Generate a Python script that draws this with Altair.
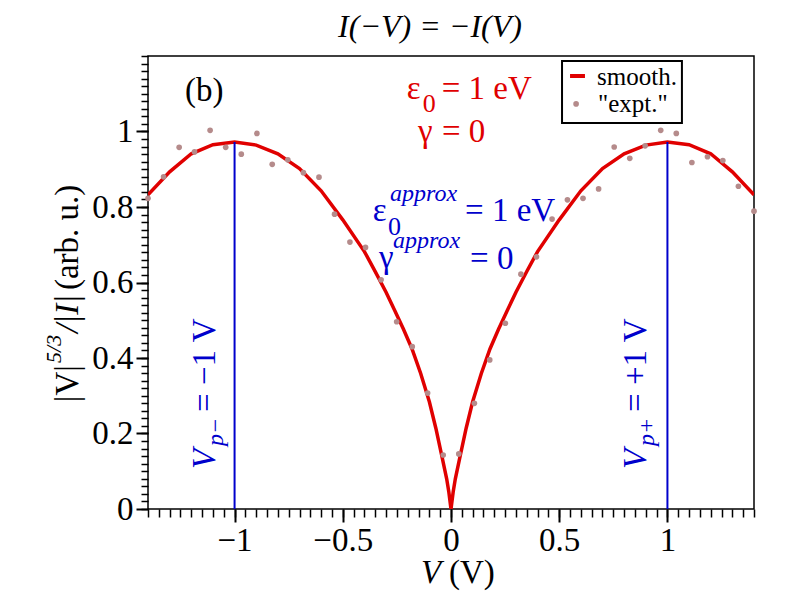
import altair as alt
import pandas as pd

# ---------------- data ----------------
expt_v = [-1.400, -1.328, -1.256, -1.185, -1.113, -1.041, -0.969, -0.897, -0.826, -0.754,
          -0.682, -0.610, -0.538, -0.467, -0.395, -0.323, -0.251, -0.179, -0.108, -0.036,
          0.036, 0.108, 0.179, 0.251, 0.323, 0.395, 0.467, 0.538, 0.610, 0.682,
          0.754, 0.826, 0.897, 0.969, 1.041, 1.113, 1.185, 1.256, 1.328, 1.400]
expt_y = [0.823, 0.880, 0.958, 0.946, 1.003, 0.958, 0.940, 0.995, 0.913, 0.925,
          0.891, 0.879, 0.781, 0.707, 0.693, 0.607, 0.496, 0.430, 0.307, 0.143,
          0.146, 0.280, 0.395, 0.492, 0.622, 0.668, 0.768, 0.819, 0.823, 0.848,
          0.959, 0.929, 0.962, 1.003, 0.995, 0.918, 0.933, 0.923, 0.855, 0.789]

smooth_v = [-1.40, -1.30, -1.20, -1.10, -1.00, -0.90, -0.80, -0.70, -0.60, -0.50,
            -0.40, -0.35, -0.30, -0.26, -0.22, -0.18, -0.14, -0.10, -0.07, -0.04,
            -0.02, -0.01, 0.00, 0.01, 0.02, 0.04, 0.07, 0.10, 0.14, 0.18,
            0.22, 0.26, 0.30, 0.35, 0.40, 0.50, 0.60, 0.70, 0.80, 0.90,
            1.00, 1.10, 1.20, 1.30, 1.40]
smooth_y = [0.832, 0.893, 0.941, 0.965, 0.972, 0.964, 0.941, 0.902, 0.843, 0.766,
            0.682, 0.629, 0.574, 0.526, 0.477, 0.424, 0.359, 0.284, 0.214, 0.134,
            0.080, 0.045, 0.000, 0.045, 0.080, 0.134, 0.214, 0.284, 0.359, 0.424,
            0.477, 0.526, 0.574, 0.629, 0.682, 0.766, 0.843, 0.902, 0.941, 0.964,
            0.972, 0.965, 0.941, 0.893, 0.832]

vp_v = [-1.0, 1.0]
vp_base = [0.0, 0.0]
vp_top = [0.972, 0.972]

x_major = [-1, -0.5, 0, 0.5, 1]
x_minor = [round(-1.4 + 0.05 * i, 2) for i in range(57)]
y_major = [0, 0.2, 0.4, 0.6, 0.8, 1.0]
y_minor = [round(0.02 * i, 2) for i in range(61)]

legend_labels = ["smooth.", '"expt."']

# ---------------- style ----------------
FONT = "'Liberation Serif', 'Times New Roman', 'DejaVu Serif', serif"
RED = "#e00000"
BLUE = "#0000cc"
PINK = "#b58b8b"

xs = alt.Scale(domain=[-1.4, 1.4], nice=False, zero=False)
ys = alt.Scale(domain=[0, 1.2], nice=False, zero=False)

smooth_df = pd.DataFrame({"v": smooth_v, "y": smooth_y})
expt_df = pd.DataFrame({"v": expt_v, "y": expt_y})
vp_df = pd.DataFrame({"v": vp_v, "base": vp_base, "top": vp_top})

curve = alt.Chart(smooth_df).mark_line(color=RED, strokeWidth=3.5, clip=True).encode(
    x=alt.X("v:Q", scale=xs, axis=alt.Axis(
        values=x_major, orient="bottom", tickSize=13, tickWidth=2, tickColor="black",
        labelFont=FONT, labelFontSize=33, labelColor="black", labelPadding=2,
        labelFlush=False, labelOverlap=False, format="~g",
        domain=False, grid=False, title="")),
    y=alt.Y("y:Q", scale=ys, axis=alt.Axis(
        values=y_major, orient="left", tickSize=12, tickWidth=2, tickColor="black",
        labelFont=FONT, labelFontSize=33, labelColor="black", labelPadding=3,
        labelFlush=False, labelOverlap=False, format="~g",
        domain=False, grid=False, title="")),
)

points = alt.Chart(expt_df).mark_point(filled=True, size=32, color=PINK, opacity=1).encode(
    x=alt.X("v:Q", scale=xs, axis=alt.Axis(
        values=x_minor, orient="bottom", tickSize=8, tickWidth=1.5, tickColor="black",
        labels=False, domain=False, grid=False, title="")),
    y=alt.Y("y:Q", scale=ys, axis=alt.Axis(
        values=y_minor, orient="left", tickSize=7, tickWidth=1.5, tickColor="black",
        labels=False, domain=False, grid=False, title="")),
)

vlines = alt.Chart(vp_df).mark_rule(color=BLUE, strokeWidth=2).encode(
    x=alt.X("v:Q", scale=xs, axis=None),
    y=alt.Y("base:Q", scale=ys, axis=None),
    y2="top:Q",
)


def label(x, y, text, **kw):
    df = pd.DataFrame({"x": [x], "y": [y], "t": [text]})
    props = dict(font=FONT, align="left", baseline="alphabetic")
    props.update(kw)
    return alt.Chart(df).mark_text(**props).encode(
        x=alt.X("x:Q", scale=xs, axis=None),
        y=alt.Y("y:Q", scale=ys, axis=None),
        text="t:N",
    )


texts = [
    # title
    label(-0.097, 1.250, "I(\u2212V) = \u2212I(V)", fontSize=32, fontStyle="italic", align="center", color="black"),
    label(-1.229, 1.081, "(b)", fontSize=33, color="black"),
    # red parameters
    label(-0.205, 1.086, "\u03b5", fontSize=33, color=RED),
    label(-0.131, 1.052, "0", fontSize=26, color=RED),
    label(-0.043, 1.086, "= 1 eV", fontSize=33, color=RED),
    label(-0.152, 0.972, "\u03b3", fontSize=33, color=RED),
    label(-0.042, 0.972, "= 0", fontSize=33, color=RED),
    # blue parameters
    label(-0.362, 0.763, "\u03b5", fontSize=33, color=BLUE),
    label(-0.291, 0.726, "0", fontSize=26, color=BLUE),
    label(-0.282, 0.816, "approx", fontSize=24, fontStyle="italic", color=BLUE),
    label(0.065, 0.763, "= 1 eV", fontSize=33, color=BLUE),
    label(-0.333, 0.638, "\u03b3", fontSize=33, color=BLUE),
    label(-0.268, 0.691, "approx", fontSize=24, fontStyle="italic", color=BLUE),
    label(0.088, 0.636, "= 0", fontSize=33, color=BLUE),
    # vertical labels
    label(-1.090, 0.106, "V", fontSize=33, fontStyle="italic", angle=270, color=BLUE),
    label(-1.053, 0.167, "p\u2212", fontSize=24, fontStyle="italic", angle=270, color=BLUE),
    label(-1.090, 0.257, "= \u22121 V", fontSize=33, angle=270, color=BLUE),
    label(0.901, 0.106, "V", fontSize=33, fontStyle="italic", angle=270, color=BLUE),
    label(0.938, 0.167, "p+", fontSize=24, fontStyle="italic", angle=270, color=BLUE),
    label(0.901, 0.257, "= +1 V", fontSize=33, angle=270, color=BLUE),
    # y axis title
    label(-1.723, 0.283, "|V|", fontSize=33, angle=270, color="black"),
    label(-1.802, 0.387, "5/3", fontSize=22, fontStyle="italic", angle=270, color="black"),
    label(-1.723, 0.466, "/|I|", fontSize=33, fontStyle="italic", angle=270, color="black"),
    label(-1.723, 0.580, "(arb. u.)", fontSize=33, angle=270, color="black"),
    # x axis title
    label(-0.139, -0.196, "V", fontSize=33, fontStyle="italic", color="black"),
    label(-0.009, -0.196, "(V)", fontSize=33, color="black"),
]

# legend (box, line sample, point sample, labels)
box_df = pd.DataFrame({"x": [0.513], "x2": [1.067], "y": [1.0225], "y2": [1.187]})
box = alt.Chart(box_df).mark_rect(fill="white", stroke="black", strokeWidth=2).encode(
    x=alt.X("x:Q", scale=xs, axis=None), x2="x2:Q",
    y=alt.Y("y:Q", scale=ys, axis=None), y2="y2:Q",
)
dash_df = pd.DataFrame({"x": [0.550], "x2": [0.619], "y": [1.147]})
dash = alt.Chart(dash_df).mark_rule(color=RED, strokeWidth=4).encode(
    x=alt.X("x:Q", scale=xs, axis=None), x2="x2:Q",
    y=alt.Y("y:Q", scale=ys, axis=None),
)
dot_df = pd.DataFrame({"x": [0.578], "y": [1.073]})
dot = alt.Chart(dot_df).mark_point(filled=True, size=32, color=PINK, opacity=1).encode(
    x=alt.X("x:Q", scale=xs, axis=None),
    y=alt.Y("y:Q", scale=ys, axis=None),
)
leg_texts = [
    label(0.675, 1.123, legend_labels[0], fontSize=25, color="black"),
    label(0.679, 1.052, legend_labels[1], fontSize=25, color="black"),
]

chart = alt.layer(
    curve, points, vlines, *texts, box, dash, dot, *leg_texts
).resolve_axis(
    x="independent", y="independent"
).properties(
    width=606, height=453,
    padding={"left": 140, "top": 48, "right": 30, "bottom": 95},
    autosize=alt.AutoSizeParams(type="none"),
    background="white",
).configure_view(
    stroke="black", strokeWidth=1.5
)

chart.save("out.html", embed_options={"renderer": "svg", "actions": False})
